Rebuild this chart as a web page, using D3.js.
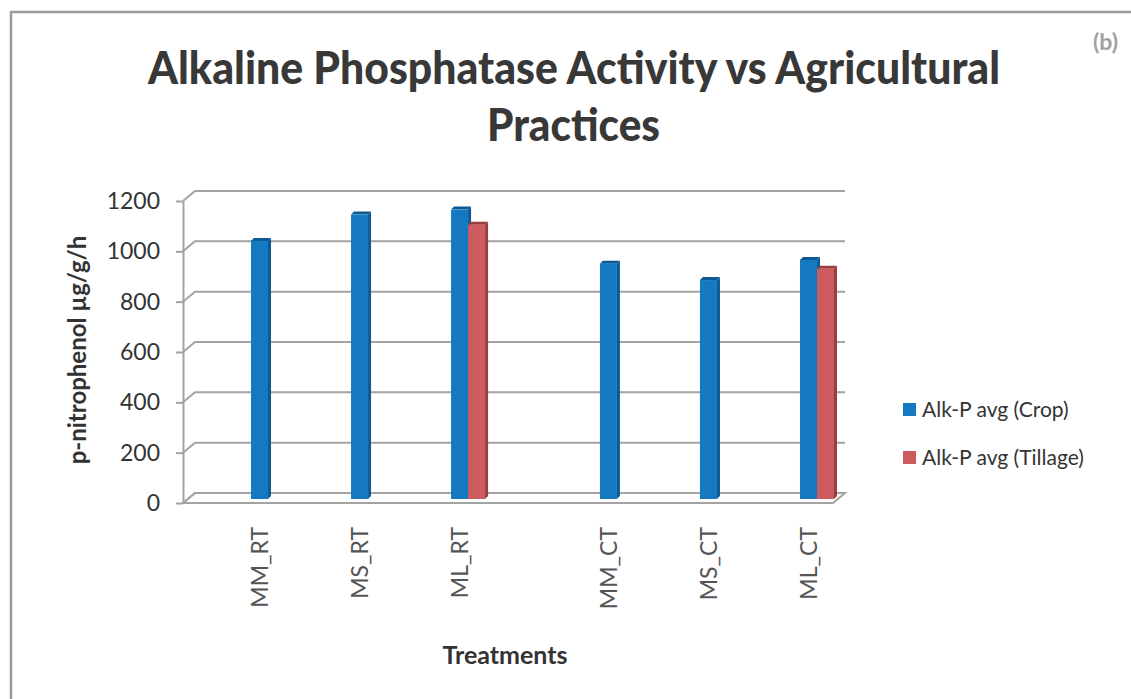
<!DOCTYPE html>
<html>
<head>
<meta charset="utf-8">
<script src="https://cdn.jsdelivr.net/npm/d3@7"></script>
<style>
  body { margin: 0; background: #fff; }
  text { font-family: Lato, "Open Sans", sans-serif; }
</style>
</head>
<body>
<div id="vis-svg"></div>
<script>
// chart data
var tillageGroups = ["RT", "CT"],
  practices = ["MM", "MS", "ML"],
  categories = ["MM_RT", "MS_RT", "ML_RT", "MM_CT", "MS_CT", "ML_CT"],
  cropValues = [1025, 1130, 1150, 935, 870, 950],
  tillageValues = [null, null, 1090, null, null, 915],
  seriesNames = ["Alk-P avg (Crop)", "Alk-P avg (Tillage)"],
  yTicks = [0, 200, 400, 600, 800, 1000, 1200];

var width = 1131,
  height = 699,
  depth = {dx: 12, dy: -10}, // offset of the back wall
  barDepth = {dx: 4, dy: -4}, // bars sit a little behind the front axis
  colors = ["#1479c0", "#cd5a5e"],
  sideColors = ["#0c5a95", "#9a3c40"],
  gridColor = "#a3a3a3";

var svg = d3.select("#vis-svg").append("svg")
  .attr("width", width)
  .attr("height", height);

// page border from the scan
svg.append("path")
  .attr("d", "M11," + height + "V12H" + width)
  .attr("fill", "none")
  .attr("stroke", "#9a9a9a")
  .attr("stroke-width", 2.5);

svg.append("text")
  .attr("x", 1118).attr("y", 50)
  .attr("text-anchor", "end")
  .style("font-size", "23px")
  .style("font-weight", "bold")
  .style("fill", "#a0a0a0")
  .text("(b)");

// title
var title = svg.append("g").style("font-weight", "900").style("fill", "#383838");
title.append("text")
  .attr("x", 148).attr("y", 84)
  .attr("textLength", 852).attr("lengthAdjust", "spacingAndGlyphs")
  .style("font-size", "46px")
  .text("Alkaline Phosphatase Activity vs Agricultural");
title.append("text")
  .attr("x", 487).attr("y", 141)
  .attr("textLength", 173).attr("lengthAdjust", "spacingAndGlyphs")
  .style("font-size", "46px")
  .text("Practices");

// scales
var x0 = 183, xEnd = 833;
var y = d3.scaleLinear().domain([0, 1200]).range([503, 201]);

var xGroup = d3.scaleBand()
  .domain(tillageGroups)
  .range([214, 863])
  .paddingInner(0.14);

var xPractice = d3.scaleBand()
  .domain(practices)
  .range([0, xGroup.bandwidth()]);

var barWidth = 17;

function catCenter(i) {
  var name = categories[i].split("_");
  return xGroup(name[1]) + xPractice(name[0]) + xPractice.bandwidth() / 2;
}

// floor
svg.append("path")
  .attr("d", "M" + x0 + "," + y(0) + "L" + xEnd + "," + y(0) +
    "L" + (xEnd + depth.dx) + "," + (y(0) + depth.dy) +
    "L" + (x0 + depth.dx) + "," + (y(0) + depth.dy) + "Z")
  .attr("fill", "none")
  .attr("stroke", gridColor)
  .attr("stroke-width", 2);

// back wall gridlines and left wall diagonals
svg.selectAll(".grid")
  .data(yTicks)
  .enter().append("path")
  .attr("class", "grid")
  .attr("d", function(d) {
    return "M" + x0 + "," + y(d) +
      "L" + (x0 + depth.dx) + "," + (y(d) + depth.dy) +
      "H" + (xEnd + depth.dx);
  })
  .attr("fill", "none")
  .attr("stroke", gridColor)
  .attr("stroke-width", 2);

// y axis
var yAxis = svg.append("g")
  .attr("transform", "translate(" + x0 + ",0)")
  .call(d3.axisLeft(y).tickValues(yTicks).tickFormat(d3.format("d"))
    .tickSize(7).tickSizeOuter(0).tickPadding(16));
yAxis.select(".domain").attr("stroke", gridColor).attr("stroke-width", 2);
yAxis.selectAll(".tick line").attr("stroke", gridColor).attr("stroke-width", 2);
yAxis.selectAll(".tick text")
  .style("font-size", "23px")
  .style("font-family", "Lato, sans-serif")
  .style("fill", "#333");

svg.append("text")
  .attr("transform", "translate(86,350) rotate(-90)")
  .attr("text-anchor", "middle")
  .style("font-size", "24px")
  .style("font-weight", "bold")
  .style("fill", "#333")
  .text("p-nitrophenol µg/g/h");

// bars: front face, right side and top
function drawBars(values, s) {
  var bars = values.map(function(v, i) { return {v: v, i: i}; })
    .filter(function(d) { return d.v != null; });
  var g = svg.append("g");
  bars.forEach(function(d) {
    var left = catCenter(d.i) - barWidth + s * barWidth + barDepth.dx,
      top = y(d.v) + barDepth.dy,
      bottom = y(0) + barDepth.dy,
      sw = 3;
    g.append("path")
      .attr("d", "M" + (left + barWidth) + "," + bottom + "l" + sw + "," + (-sw) +
        "V" + (top - sw) + "l" + (-sw) + "," + sw + "Z")
      .attr("fill", sideColors[s]);
    g.append("path")
      .attr("d", "M" + left + "," + top + "l" + sw + "," + (-sw) +
        "h" + barWidth + "l" + (-sw) + "," + sw + "Z")
      .attr("fill", sideColors[s]);
    g.append("rect")
      .attr("x", left).attr("y", top)
      .attr("width", barWidth).attr("height", bottom - top)
      .attr("fill", colors[s]);
  });
}
drawBars(cropValues, 0);
drawBars(tillageValues, 1);

// category labels
svg.selectAll(".cat")
  .data(categories)
  .enter().append("text")
  .attr("class", "cat")
  .attr("transform", function(d, i) { return "translate(" + (catCenter(i) + 4) + ",527) rotate(-90)"; })
  .attr("text-anchor", "end")
  .style("font-size", "23px")
  .style("fill", "#555")
  .text(function(d) { return d; });

svg.append("text")
  .attr("x", 505).attr("y", 664)
  .attr("text-anchor", "middle")
  .style("font-size", "25px")
  .style("font-weight", "bold")
  .style("fill", "#333")
  .text("Treatments");

// legend
var legend = svg.selectAll(".legend")
  .data(seriesNames)
  .enter().append("g")
  .attr("class", "legend")
  .attr("transform", function(d, i) { return "translate(903," + (403 + i * 48) + ")"; });
legend.append("rect")
  .attr("width", 13).attr("height", 13)
  .attr("fill", function(d, i) { return colors[i]; });
legend.append("text")
  .attr("x", 19).attr("y", 14)
  .style("font-size", "21px")
  .style("fill", "#333")
  .text(function(d) { return d; });
</script>
</body>
</html>
